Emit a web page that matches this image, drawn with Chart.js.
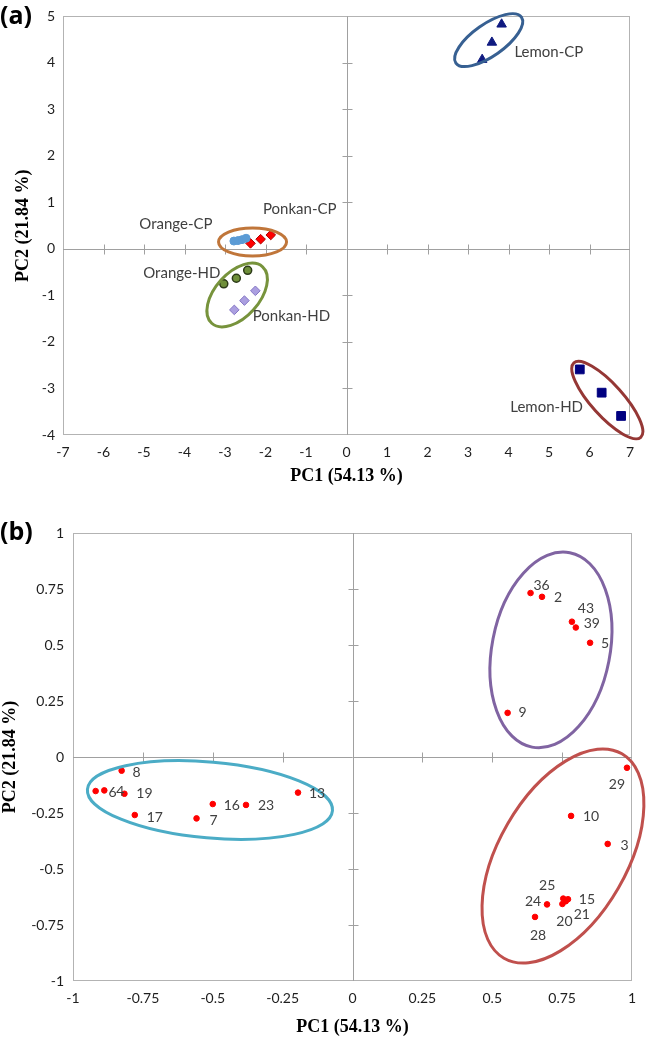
<!DOCTYPE html>
<html>
<head>
<meta charset="utf-8">
<script src="https://cdn.jsdelivr.net/npm/chart.js@4.4.1/dist/chart.umd.min.js"></script>
<style>
  body { margin: 0; background: #fff; }
  .wrap { position: absolute; left: 0; width: 646px; }
  #wrapA { top: 0; height: 500px; }
  #wrapB { top: 500px; height: 539px; }
</style>
</head>
<body>
<div class="wrap" id="wrapA"><canvas id="chartA" width="646" height="500"></canvas></div>
<div class="wrap" id="wrapB"><canvas id="chartB" width="646" height="539"></canvas></div>
<script>
// (a) PCA scores, [PC1, PC2]
const lemonCP  = [[3.83, 4.83], [3.59, 4.44], [3.35, 4.07]];
const orangeCP = [[-2.78, 0.17], [-2.68, 0.18], [-2.58, 0.20], [-2.48, 0.23]];
const ponkanCP = [[-2.37, 0.12], [-2.12, 0.21], [-1.87, 0.30]];
const orangeHD = [[-3.03, -0.75], [-2.72, -0.63], [-2.44, -0.46]];
const ponkanHD = [[-2.77, -1.31], [-2.52, -1.11], [-2.25, -0.90]];
const lemonHD  = [[5.76, -2.59], [6.30, -3.09], [6.78, -3.59]];
const ticksAX = [-7, -6, -5, -4, -3, -2, -1, 0, 1, 2, 3, 4, 5, 6, 7];
const ticksAY = [-4, -3, -2, -1, 0, 1, 2, 3, 4, 5];

// (b) loadings
const varNames = ['36', '2', '43', '39', '5', '9', '8', '6', '4', '19', '17', '7',
                  '16', '23', '13', '29', '10', '3', '25', '15', '21', '20', '24', '28'];
const varPC1 = [0.637, 0.678, 0.785, 0.799, 0.850, 0.555, -0.826, -0.919, -0.888, -0.816, -0.779, -0.558,
                -0.500, -0.381, -0.195, 0.982, 0.782, 0.913, 0.754, 0.771, 0.763, 0.751, 0.696, 0.653];
const varPC2 = [0.732, 0.715, 0.604, 0.578, 0.510, 0.197, -0.061, -0.152, -0.149, -0.164, -0.259, -0.274,
                -0.210, -0.214, -0.159, -0.048, -0.263, -0.388, -0.632, -0.635, -0.644, -0.656, -0.658, -0.714];
const ticksB = [-1, -0.75, -0.5, -0.25, 0, 0.25, 0.5, 0.75, 1];

// label placement for (b), pixels from the point
const varLabelOffsets = [[11, -8], [16, 1], [14, -13], [16, -4], [15, 1], [15, 0], [15, 2], [17, 1], [16, 1],
                         [20, 0], [20, 2], [17, 2], [19, 1], [20, 1], [19, 1], [-10, 17], [20, 1], [17, 2],
                         [-16, -13], [19, 0], [16, 13], [2, 18], [-14, -3], [3, 19]];

const toPts = arr => arr.map(p => ({x: p[0], y: p[1]}));
const tickFont = {family: 'Lato', size: 14};
const titleFont = {family: 'Liberation Serif', size: 18, weight: 'bold'};

// frame + axes crossing at zero, Excel style
const framePlugin = {
  id: 'frame',
  beforeDatasetsDraw(chart) {
    const {ctx, chartArea: a, scales: {x, y}} = chart;
    const x0 = Math.round(x.getPixelForValue(0)) + 0.5;
    const y0 = Math.round(y.getPixelForValue(0)) + 0.5;
    ctx.save();
    ctx.lineWidth = 1;
    ctx.strokeStyle = '#b3b3b3';
    ctx.strokeRect(Math.round(a.left) + 0.5, Math.round(a.top) + 0.5, Math.round(a.width) - 1, Math.round(a.height) - 1);
    ctx.strokeStyle = '#a0a0a0';
    ctx.beginPath();
    ctx.moveTo(x0, a.top); ctx.lineTo(x0, a.bottom);
    ctx.moveTo(a.left, y0); ctx.lineTo(a.right, y0);
    x.ticks.forEach((t, i) => {
      if (i === 0 || i === x.ticks.length - 1 || t.value === 0) return;
      const px = Math.round(x.getPixelForValue(t.value)) + 0.5;
      ctx.moveTo(px, y0 - 5); ctx.lineTo(px, y0 + 5);
    });
    y.ticks.forEach((t, i) => {
      if (i === 0 || i === y.ticks.length - 1 || t.value === 0) return;
      const py = Math.round(y.getPixelForValue(t.value)) + 0.5;
      ctx.moveTo(x0 - 5, py); ctx.lineTo(x0 + 5, py);
    });
    ctx.stroke();
    ctx.restore();
  }
};

const ellipsePlugin = {
  id: 'ellipses',
  afterDatasetsDraw(chart, args, opts) {
    const {ctx, scales: {x, y}} = chart;
    ctx.save();
    opts.items.forEach(e => {
      ctx.beginPath();
      ctx.ellipse(x.getPixelForValue(e.cx), y.getPixelForValue(e.cy), e.rx, e.ry, e.rot * Math.PI / 180, 0, 2 * Math.PI);
      ctx.lineWidth = e.width;
      ctx.strokeStyle = e.color;
      ctx.stroke();
    });
    ctx.restore();
  }
};

const textPlugin = {
  id: 'texts',
  afterDraw(chart, args, opts) {
    const {ctx} = chart;
    ctx.save();
    ctx.textBaseline = 'middle';
    // panel letter
    ctx.font = 'bold 25px "Open Sans"';
    ctx.fillStyle = '#000';
    ctx.textAlign = 'left';
    ctx.fillText(opts.panel, 0, chart.chartArea.top);
    // point / group labels
    ctx.font = opts.labelFont;
    ctx.fillStyle = '#404040';
    ctx.textAlign = 'center';
    opts.labels.forEach(l => {
      const pt = chart.getDatasetMeta(l.ds).data[l.idx];
      ctx.fillText(l.text, pt.x + l.dx, pt.y + l.dy);
    });
    ctx.restore();
  }
};

function axis(min, max, ticks, size, pad, title, titlePad) {
  return {
    type: 'linear', min: min, max: max,
    afterBuildTicks: s => { s.ticks = ticks.map(v => ({value: v})); },
    afterFit: s => { if (s.isHorizontal()) s.height = size; else s.width = size; },
    grid: {display: false, drawTicks: false},
    border: {display: false},
    ticks: {padding: pad, color: '#1e1e1e', font: tickFont, autoSkip: false, maxRotation: 0,
            callback: v => String(v)},
    title: {display: true, text: title, color: '#000', font: titleFont, padding: titlePad}
  };
}

new Chart(document.getElementById('chartA'), {
  type: 'scatter',
  data: {
    datasets: [
      {label: 'Lemon-CP', data: toPts(lemonCP), pointStyle: 'triangle', pointRadius: 5.5,
       backgroundColor: '#0f1a80', borderColor: '#0f1a80', borderWidth: 1},
      {label: 'Orange-CP', data: toPts(orangeCP), pointStyle: 'circle', pointRadius: 4,
       backgroundColor: '#5b9bd5', borderColor: '#5b9bd5', borderWidth: 1},
      {label: 'Ponkan-CP', data: toPts(ponkanCP), pointStyle: 'rectRot', pointRadius: 4.8,
       backgroundColor: '#ff0000', borderColor: '#b00000', borderWidth: 1},
      {label: 'Orange-HD', data: toPts(orangeHD), pointStyle: 'circle', pointRadius: 4,
       backgroundColor: '#6f8f3a', borderColor: '#2c3a18', borderWidth: 1.5},
      {label: 'Ponkan-HD', data: toPts(ponkanHD), pointStyle: 'rectRot', pointRadius: 4.8,
       backgroundColor: '#ab9fe0', borderColor: '#8476c4', borderWidth: 1},
      {label: 'Lemon-HD', data: toPts(lemonHD), pointStyle: 'rect', pointRadius: 6.2,
       backgroundColor: '#000080', borderColor: '#000080', borderWidth: 1}
    ]
  },
  options: {
    responsive: false, animation: false, devicePixelRatio: 1,
    layout: {padding: {top: 14, right: 16, left: 0, bottom: 0}},
    scales: {
      x: axis(-7, 7, ticksAX, 65, 9, 'PC1 (54.13 %)', {top: 0, bottom: 13}),
      y: axis(-4, 5, ticksAY, 63, 8, 'PC2 (21.84 %)', {top: 13, bottom: 0})
    },
    plugins: {
      legend: {display: false}, tooltip: {enabled: false},
      ellipses: {items: [
        {cx: 3.51, cy: 4.49, rx: 40, ry: 16, rot: -35, color: '#376092', width: 3},
        {cx: -2.32, cy: 0.15, rx: 34, ry: 14, rot: 0, color: '#c0763a', width: 3},
        {cx: -2.70, cy: -0.99, rx: 38, ry: 22, rot: -48, color: '#77933c', width: 3},
        {cx: 6.44, cy: -3.25, rx: 50, ry: 16, rot: 48, color: '#953735', width: 3}
      ]},
      texts: {panel: '(a)', labelFont: '15px Lato', labels: [
        {ds: 0, idx: 1, dx: 57, dy: 10, text: 'Lemon-CP'},
        {ds: 1, idx: 0, dx: -58, dy: -17, text: 'Orange-CP'},
        {ds: 2, idx: 2, dx: 29, dy: -26, text: 'Ponkan-CP'},
        {ds: 3, idx: 0, dx: -42, dy: -11, text: 'Orange-HD'},
        {ds: 4, idx: 2, dx: 36, dy: 25, text: 'Ponkan-HD'},
        {ds: 5, idx: 1, dx: -55, dy: 14, text: 'Lemon-HD'}
      ]}
    }
  },
  plugins: [framePlugin, ellipsePlugin, textPlugin]
});

new Chart(document.getElementById('chartB'), {
  type: 'scatter',
  data: {
    datasets: [{
      label: 'variables',
      data: varPC1.map((v, i) => ({x: v, y: varPC2[i]})),
      pointStyle: 'circle', pointRadius: 2.8,
      backgroundColor: '#ff0000', borderColor: '#ff0000', borderWidth: 1
    }]
  },
  options: {
    responsive: false, animation: false, devicePixelRatio: 1,
    layout: {padding: {top: 33, right: 14, left: 0, bottom: 0}},
    scales: {
      x: axis(-1, 1, ticksB, 58, 9, 'PC1 (54.13 %)', {top: 0, bottom: 1}),
      y: axis(-1, 1, ticksB, 73, 9, 'PC2 (21.84 %)', {top: 0, bottom: 0})
    },
    plugins: {
      legend: {display: false}, tooltip: {enabled: false},
      ellipses: {items: [
        {cx: 0.710, cy: 0.478, rx: 59, ry: 99, rot: 11, color: '#8064a2', width: 3},
        {cx: -0.510, cy: -0.192, rx: 123, ry: 38, rot: 5, color: '#4bacc6', width: 3},
        {cx: 0.753, cy: -0.442, rx: 64, ry: 118, rot: 30, color: '#c0504d', width: 3}
      ]},
      texts: {panel: '(b)', labelFont: '14px Lato',
        labels: varNames.map((n, i) => ({ds: 0, idx: i, dx: varLabelOffsets[i][0], dy: varLabelOffsets[i][1], text: n}))}
    }
  },
  plugins: [framePlugin, ellipsePlugin, textPlugin]
});
</script>
</body>
</html>
